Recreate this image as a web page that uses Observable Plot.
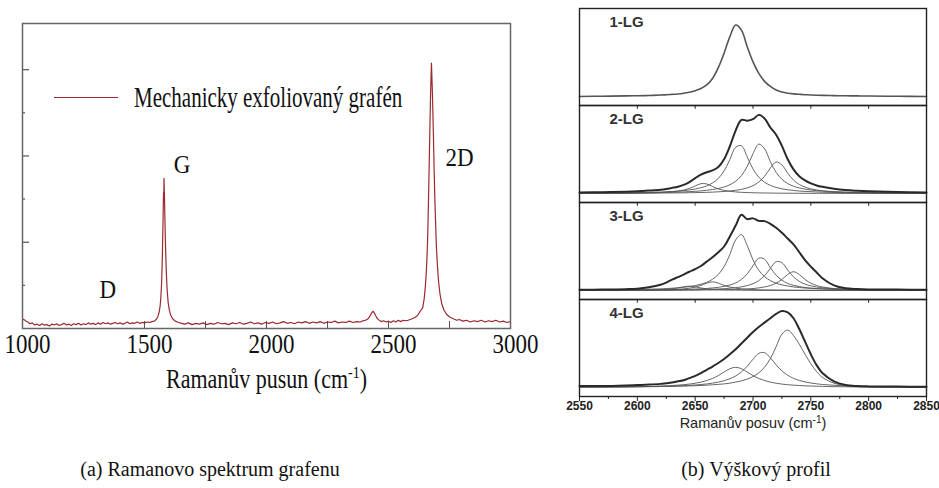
<!DOCTYPE html>
<html>
<head>
<meta charset="utf-8">
<script src="https://cdn.jsdelivr.net/npm/d3@7"></script>
<script src="https://cdn.jsdelivr.net/npm/@observablehq/plot@0.6"></script>
<style>
  body { margin: 0; background: #fff; }
  #page { position: relative; width: 939px; height: 488px; overflow: hidden; background: #fff; }
  #left { position: absolute; left: 0; top: 0; width: 545px; height: 420px; overflow: hidden; }
  #right { position: absolute; left: 560px; top: 0; }
  #legend { position: absolute; left: 54px; top: 85px; height: 24px; display: flex; align-items: center; }
  #legend .swatch { width: 64px; height: 0; border-top: 1.5px solid #992a2f; margin-right: 16px; }
  #legend .label { font-family: "Liberation Serif", serif; font-size: 21px; color: #111; line-height: 24px;
                   display: inline-block; transform: scaleY(1.4); transform-origin: center; white-space: nowrap; }
  .caption { position: absolute; top: 457px; height: 24px; line-height: 24px; transform: translateX(-50%);
             font-family: "Liberation Serif", serif; font-size: 20px; color: #111; white-space: nowrap; }
</style>
</head>
<body>
<div id="page">
  <div id="left"></div>
  <div id="legend"><span class="swatch"></span><span class="label">Mechanicky exfoliovaný grafén</span></div>
  <div id="right"></div>
  <div class="caption" style="left:210px">(a) Ramanovo spektrum grafenu</div>
  <div class="caption" style="left:756px">(b) Výškový profil</div>
</div>
<script>
// ---------- (a) Raman spectrum of mechanically exfoliated graphene ----------
const ramanShift = [
  1000,1008,1015,1022,1030,1040,1050,1060,1070,1080,
  1090,1100,1110,1120,1130,1140,1150,1160,1170,1180,
  1190,1200,1210,1220,1230,1240,1250,1260,1270,1280,
  1290,1300,1310,1320,1330,1340,1350,1360,1370,1380,
  1390,1400,1410,1420,1430,1440,1450,1460,1470,1480,
  1490,1500,1510,1520,1530,1540,1548,1555,1560,1564,
  1567,1570,1572,1574,1576,1577,1578,1579,1580,1581,
  1582,1584,1586,1588,1590,1593,1597,1602,1608,1616,
  1626,1640,1652,1665,1680,1695,1710,1725,1740,1755,
  1770,1785,1800,1815,1830,1845,1860,1875,1890,1905,
  1920,1935,1950,1965,1980,1995,2010,2025,2040,2055,
  2070,2085,2100,2115,2130,2145,2160,2175,2190,2205,
  2220,2235,2250,2265,2280,2295,2310,2325,2340,2355,
  2370,2385,2395,2405,2415,2422,2428,2433,2437,2442,
  2447,2453,2460,2470,2480,2490,2500,2510,2520,2530,
  2540,2550,2560,2570,2580,2595,2610,2620,2630,2640,
  2646,2650,2654,2657,2660,2662,2664,2666,2668,2670,
  2672,2674,2676,2678,2680,2682,2684,2686,2688,2690,
  2693,2696,2700,2705,2711,2718,2727,2738,2752,2768,
  2780,2790,2805,2820,2835,2850,2865,2880,2895,2910,
  2925,2940,2955,2970,2985,3000
];
const ramanIntensity = [
  .22,.20,.17,.15,.11,.13,.08,.10,.07,.11,
  .08,.09,.06,.10,.08,.11,.07,.09,.12,.08,
  .10,.07,.11,.09,.12,.08,.11,.09,.13,.10,
  .12,.09,.13,.10,.14,.11,.13,.10,.12,.14,
  .11,.13,.10,.12,.15,.11,.13,.12,.15,.12,
  .14,.13,.15,.14,.16,.17,.21,.28,.38,.52,
  .72,1.05,1.40,1.90,2.50,2.85,3.15,2.95,3.48,3.25,
  3.00,2.45,1.95,1.55,1.22,.88,.60,.42,.30,.22,
  .17,.14,.12,.10,.13,.09,.12,.10,.13,.09,
  .12,.10,.14,.11,.12,.09,.13,.11,.14,.10,
  .12,.15,.11,.13,.10,.14,.12,.15,.11,.13,
  .16,.12,.14,.11,.15,.13,.16,.12,.15,.13,
  .16,.12,.15,.14,.17,.13,.15,.14,.17,.14,
  .16,.15,.18,.19,.22,.27,.33,.38,.40,.36,
  .30,.24,.20,.16,.18,.15,.17,.14,.18,.15,
  .19,.16,.19,.18,.19,.22,.26,.31,.40,.48,
  .68,.90,1.22,1.55,2.00,2.45,3.00,3.55,4.15,4.75,
  5.30,5.75,6.15,5.80,5.45,5.00,4.50,3.95,3.45,3.00,
  2.45,1.95,1.50,1.10,.80,.58,.43,.33,.26,.22,
  .19,.21,.17,.19,.15,.18,.16,.19,.15,.18,
  .16,.19,.15,.17,.14,.16
];
const bandNames = ["D", "G", "2D"];
const bandShift = [1350, 1580, 2676];
const shiftTickLabels = [1000, 1500, 2000, 2500, 3000];
const shiftInnerTicks = [1500, 1750, 2000, 2250, 2500, 2750];
const intensityTicksLong = [2, 4, 6];
const intensityTicksShort = [1, 3, 5];

const spectrum = ramanShift.map((s, i) => ({shift: s, intensity: ramanIntensity[i]}));
const bands = bandNames.map((name, i) => {
  const point = spectrum.find(d => d.shift === bandShift[i]);
  return {name, shift: bandShift[i], intensity: point.intensity};
});
// label offsets for the band names (pixels)
const bandLabelOffset = {D: [0, -33], G: [18, -13], "2D": [28, 95]};

const spectrumColor = "#992a2f";
const leftChart = Plot.plot({
  width: 545, height: 420,
  marginLeft: 22, marginRight: 35, marginTop: 23, marginBottom: 92,
  x: {domain: [1000, 3000]},
  y: {domain: [0, 7.07], axis: null},
  style: {fontFamily: "'Liberation Serif', serif", fontSize: "23px", color: "#111", background: "transparent"},
  marks: [
    Plot.ruleX(shiftInnerTicks, {stroke: "#555", strokeWidth: 1, insetTop: 298}),
    Plot.ruleY(intensityTicksLong, {stroke: "#555", strokeWidth: 1.2, insetRight: 481}),
    Plot.ruleY(intensityTicksShort, {stroke: "#555", strokeWidth: 1.2, insetRight: 485}),
    Plot.line(spectrum, {x: "shift", y: "intensity", stroke: spectrumColor, strokeWidth: 1.2}),
    ...bands.map(b => Plot.text([b], {
      x: "shift", y: "intensity", text: "name",
      dx: bandLabelOffset[b.name][0], dy: bandLabelOffset[b.name][1],
      fill: "#111", fontSize: 23
    })),
    Plot.frame({stroke: "#666", strokeWidth: 1.5}),
    Plot.axisX({
      ticks: shiftTickLabels, tickSize: 0, tickPadding: 7, dx: 5,
      tickFormat: d => String(d),
      label: "Ramanův pusun (cm-1)", labelAnchor: "center", labelOffset: 58, labelArrow: "none"
    })
  ]
});
document.getElementById("left").appendChild(leftChart);

// ---------- (b) 2D band of 1–4 layer graphene ----------
const layerPanels = ["1-LG", "2-LG", "3-LG", "4-LG"];
const shift2D = [2550,2570,2590,2600,2610,2620,2625,2630,2635,2640,
                 2645,2650,2655,2660,2665,2670,2675,2680,2685,2690,
                 2695,2700,2705,2710,2715,2720,2725,2730,2735,2740,
                 2745,2750,2755,2760,2770,2780,2790,2800,2825,2850];

const lg1 = [0.000,0.004,0.008,0.010,0.014,0.020,0.024,0.029,0.035,0.045,
             0.060,0.080,0.110,0.160,0.250,0.400,0.600,0.830,0.990,0.920,
             0.690,0.480,0.320,0.210,0.140,0.090,0.062,0.046,0.036,0.030,
             0.025,0.021,0.018,0.016,0.012,0.010,0.008,0.006,0.003,0.000];

const lg2 = [0.013,0.018,0.025,0.031,0.041,0.053,0.063,0.078,0.094,0.120,
             0.158,0.212,0.262,0.295,0.320,0.368,0.476,0.655,0.872,1.020,
             1.010,1.030,1.090,1.040,0.915,0.815,0.660,0.475,0.335,0.240,
             0.182,0.140,0.111,0.092,0.065,0.047,0.037,0.030,0.020,0.015];
const lg2Fit1 = [0.002,0.003,0.004,0.006,0.009,0.013,0.017,0.023,0.032,0.047,
                 0.070,0.104,0.136,0.132,0.097,0.064,0.043,0.030,0.022,0.016,
                 0.013,0.010,0.008,0.007,0.006,0.005,0.004,0.004,0.003,0.003,
                 0.003,0.002,0.002,0.002,0.002,0.001,0.001,0.001,0.001,0.001];
const lg2Fit2 = [0.005,0.007,0.010,0.012,0.016,0.021,0.024,0.028,0.033,0.040,
                 0.049,0.062,0.080,0.105,0.146,0.209,0.313,0.471,0.640,0.662,
                 0.507,0.340,0.226,0.156,0.112,0.084,0.065,0.051,0.042,0.034,
                 0.029,0.025,0.021,0.018,0.014,0.011,0.009,0.008,0.005,0.004];
const lg2Fit3 = [0.004,0.005,0.007,0.009,0.011,0.013,0.015,0.017,0.019,0.022,
                 0.026,0.030,0.036,0.044,0.055,0.069,0.090,0.121,0.170,0.248,
                 0.375,0.552,0.685,0.621,0.442,0.293,0.197,0.138,0.101,0.077,
                 0.060,0.048,0.039,0.033,0.023,0.018,0.014,0.011,0.007,0.005];
const lg2Fit4 = [0.002,0.003,0.004,0.004,0.005,0.006,0.007,0.008,0.008,0.009,
                 0.011,0.012,0.014,0.016,0.019,0.023,0.028,0.035,0.044,0.057,
                 0.077,0.108,0.158,0.239,0.352,0.437,0.396,0.282,0.187,0.125,
                 0.088,0.064,0.049,0.038,0.025,0.017,0.013,0.010,0.006,0.004];

const lg3 = [0.010,0.012,0.018,0.025,0.045,0.080,0.110,0.150,0.185,0.220,
             0.260,0.295,0.340,0.400,0.460,0.530,0.610,0.750,0.900,1.050,
             0.990,1.000,0.965,0.962,0.925,0.870,0.800,0.720,0.640,0.530,
             0.420,0.330,0.250,0.170,0.070,0.030,0.020,0.015,0.012,0.010];
const lg3Fit1 = [0.001,0.001,0.003,0.004,0.006,0.011,0.016,0.023,0.035,0.051,
                 0.060,0.051,0.035,0.023,0.016,0.011,0.008,0.006,0.005,0.004,
                 0.003,0.003,0.002,0.002,0.002,0.002,0.002,0.001,0.001,0.001,
                 0.001,0.001,0.001,0.001,0.001,0.001,0.001,0.001,0.000,0.000];
const lg3Fit2 = [0.001,0.002,0.003,0.004,0.005,0.008,0.010,0.013,0.017,0.022,
                 0.032,0.047,0.071,0.102,0.120,0.102,0.071,0.047,0.032,0.022,
                 0.017,0.013,0.010,0.008,0.007,0.005,0.005,0.004,0.003,0.003,
                 0.003,0.002,0.002,0.002,0.002,0.001,0.001,0.001,0.001,0.001];
const lg3Fit3 = [0.006,0.008,0.011,0.014,0.018,0.023,0.027,0.031,0.037,0.044,
                 0.054,0.067,0.087,0.114,0.156,0.222,0.331,0.499,0.702,0.775,
                 0.624,0.424,0.281,0.192,0.137,0.101,0.078,0.062,0.050,0.041,
                 0.034,0.029,0.025,0.022,0.017,0.013,0.011,0.009,0.006,0.004];
const lg3Fit4 = [0.003,0.003,0.005,0.006,0.007,0.009,0.010,0.011,0.012,0.014,
                 0.017,0.020,0.023,0.028,0.035,0.044,0.057,0.076,0.105,0.153,
                 0.230,0.343,0.448,0.433,0.318,0.212,0.142,0.098,0.071,0.054,
                 0.042,0.033,0.027,0.022,0.016,0.012,0.009,0.008,0.005,0.003];
const lg3Fit5 = [0.002,0.003,0.003,0.004,0.005,0.006,0.006,0.007,0.008,0.009,
                 0.010,0.011,0.013,0.015,0.017,0.021,0.025,0.031,0.039,0.050,
                 0.068,0.094,0.137,0.205,0.306,0.399,0.386,0.284,0.189,0.126,
                 0.088,0.064,0.048,0.037,0.024,0.017,0.012,0.009,0.005,0.004];
const lg3Fit6 = [0.001,0.001,0.002,0.002,0.002,0.003,0.003,0.003,0.004,0.004,
                 0.005,0.005,0.006,0.007,0.007,0.009,0.010,0.012,0.014,0.017,
                 0.021,0.027,0.036,0.049,0.069,0.101,0.153,0.222,0.260,0.222,
                 0.153,0.101,0.069,0.049,0.027,0.017,0.012,0.009,0.005,0.003];

const lg4 = [0.020,0.020,0.028,0.034,0.040,0.050,0.060,0.070,0.085,0.100,
             0.130,0.160,0.200,0.245,0.290,0.340,0.395,0.460,0.530,0.610,
             0.690,0.770,0.840,0.900,0.960,1.020,1.060,1.040,0.960,0.810,
             0.635,0.460,0.310,0.200,0.085,0.035,0.020,0.015,0.012,0.010];
const lg4Fit1 = [0.005,0.007,0.010,0.012,0.015,0.020,0.023,0.027,0.032,0.039,
                 0.047,0.059,0.074,0.096,0.125,0.165,0.214,0.260,0.280,0.260,
                 0.214,0.165,0.125,0.096,0.074,0.059,0.047,0.039,0.032,0.027,
                 0.023,0.020,0.017,0.015,0.012,0.010,0.008,0.007,0.005,0.003];
const lg4Fit2 = [0.005,0.007,0.009,0.011,0.013,0.016,0.018,0.020,0.022,0.026,
                 0.030,0.035,0.041,0.049,0.060,0.074,0.093,0.121,0.160,0.216,
                 0.295,0.392,0.473,0.483,0.411,0.314,0.230,0.170,0.127,0.098,
                 0.077,0.062,0.051,0.042,0.031,0.023,0.018,0.014,0.009,0.006];
const lg4Fit3 = [0.005,0.006,0.008,0.009,0.011,0.013,0.014,0.016,0.017,0.019,
                 0.022,0.024,0.028,0.032,0.037,0.043,0.050,0.060,0.074,0.091,
                 0.116,0.151,0.203,0.282,0.400,0.566,0.740,0.796,0.720,0.600,
                 0.460,0.330,0.220,0.140,0.060,0.025,0.012,0.008,0.004,0.003];

const majorShiftTicks = [2550, 2600, 2650, 2700, 2750, 2800, 2850];
const minorShiftTicks = [2575, 2625, 2675, 2725, 2775, 2825];
const separatorTicks = [2600, 2650, 2700, 2750, 2800];

const curves = [
  {panel: "1-LG", role: "single", values: lg1},
  {panel: "2-LG", role: "measured", values: lg2},
  {panel: "2-LG", role: "fit", values: lg2Fit1},
  {panel: "2-LG", role: "fit", values: lg2Fit2},
  {panel: "2-LG", role: "fit", values: lg2Fit3},
  {panel: "2-LG", role: "fit", values: lg2Fit4},
  {panel: "3-LG", role: "measured", values: lg3},
  {panel: "3-LG", role: "fit", values: lg3Fit1},
  {panel: "3-LG", role: "fit", values: lg3Fit2},
  {panel: "3-LG", role: "fit", values: lg3Fit3},
  {panel: "3-LG", role: "fit", values: lg3Fit4},
  {panel: "3-LG", role: "fit", values: lg3Fit5},
  {panel: "3-LG", role: "fit", values: lg3Fit6},
  {panel: "4-LG", role: "measured", values: lg4},
  {panel: "4-LG", role: "fit", values: lg4Fit1},
  {panel: "4-LG", role: "fit", values: lg4Fit2},
  {panel: "4-LG", role: "fit", values: lg4Fit3}
];
const rows = curves.flatMap((c, k) =>
  shift2D.map((s, i) => ({panel: c.panel, role: c.role, curve: k, shift: s, intensity: c.values[i]})));
const sepTickRows = layerPanels.slice(1).flatMap(p => separatorTicks.map(s => ({panel: p, shift: s})));

const rightHeight = 436, rightTop = 7, rightBottom = 40;
const bandHeight = (rightHeight - rightTop - rightBottom) / layerPanels.length;

const rightChart = Plot.plot({
  width: 379, height: rightHeight,
  marginLeft: 19, marginRight: 13, marginTop: rightTop, marginBottom: rightBottom,
  x: {domain: [2550, 2850]},
  y: {domain: [-0.125, 1.22], axis: null},
  fy: {domain: layerPanels, padding: 0, axis: null},
  style: {fontFamily: "'Liberation Sans', Arial, sans-serif", fontSize: "12px", color: "#222", background: "transparent"},
  marks: [
    Plot.line(rows.filter(d => d.role === "fit"), {
      x: "shift", y: "intensity", z: "curve", fy: "panel",
      stroke: "#555", strokeWidth: 0.9, curve: "catmull-rom"
    }),
    Plot.line(rows.filter(d => d.role === "single"), {
      x: "shift", y: "intensity", z: "curve", fy: "panel",
      stroke: "#555", strokeWidth: 1.6, curve: "catmull-rom"
    }),
    Plot.line(rows.filter(d => d.role === "measured"), {
      x: "shift", y: "intensity", z: "curve", fy: "panel",
      stroke: "#2a2a2a", strokeWidth: 2, curve: "catmull-rom"
    }),
    Plot.ruleX(sepTickRows, {x: "shift", fy: "panel", stroke: "#222", strokeWidth: 1, insetBottom: bandHeight - 4}),
    Plot.text(layerPanels, {
      fy: d => d, text: d => d, frameAnchor: "top-left", dx: 30, dy: 8,
      fontWeight: "bold", fontSize: 15, fill: "#333"
    }),
    Plot.frame({stroke: "#222", strokeWidth: 1.4}),
    Plot.axisX({
      ticks: majorShiftTicks, tickSize: 5, tickPadding: 0, tickFormat: d => String(d),
      label: "Ramanův posuv (cm-1)", labelAnchor: "center", labelOffset: 31, labelArrow: "none"
    }),
    Plot.axisX({ticks: minorShiftTicks, tickSize: 3, tickFormat: () => "", label: null})
  ]
});
document.getElementById("right").appendChild(rightChart);

// typography of the axis texts
function styleTexts(svg, selector, props) {
  svg.querySelectorAll(selector).forEach(t => {
    for (const [k, v] of Object.entries(props)) t.style.setProperty(k, v);
  });
}
styleTexts(leftChart, 'g[aria-label="x-axis label"] text', {"font-size": "22px", "fill": "#111"});
styleTexts(rightChart, 'g[aria-label="x-axis tick label"] text', {"font-weight": "bold", "font-size": "12px", "fill": "#222"});
styleTexts(rightChart, 'g[aria-label="x-axis label"] text', {"font-weight": "normal", "font-size": "14.5px", "fill": "#222"});

// superscript "-1" in the axis titles
function superscriptUnit(svg, base, supSize, rise) {
  const t = svg.querySelector('g[aria-label="x-axis label"] text');
  if (!t) return;
  t.textContent = "";
  const ns = "http://www.w3.org/2000/svg";
  const a = document.createElementNS(ns, "tspan"); a.textContent = base; t.appendChild(a);
  const b = document.createElementNS(ns, "tspan"); b.textContent = "-1";
  b.setAttribute("dy", -rise); b.style.fontSize = supSize + "px"; t.appendChild(b);
  const c = document.createElementNS(ns, "tspan"); c.textContent = ")";
  c.setAttribute("dy", rise); t.appendChild(c);
}
superscriptUnit(leftChart, "Ramanův pusun (cm", 14, 8);
superscriptUnit(rightChart, "Ramanův posuv (cm", 10, 5);

// vertically stretch the serif lettering of the spectrum panel
function stretch(svg, selector, k) {
  svg.querySelectorAll(selector).forEach(t => {
    const b = t.getBBox();
    const cy = b.y + b.height / 2;
    const prev = t.getAttribute("transform") || "";
    t.setAttribute("transform", `${prev} translate(0 ${cy}) scale(1 ${k}) translate(0 ${-cy})`);
  });
}
stretch(leftChart, 'g[aria-label="x-axis tick label"] text', 1.15);
stretch(leftChart, 'g[aria-label="x-axis label"] text', 1.25);
stretch(leftChart, 'g[aria-label="text"] text', 1.1);
</script>
</body>
</html>
